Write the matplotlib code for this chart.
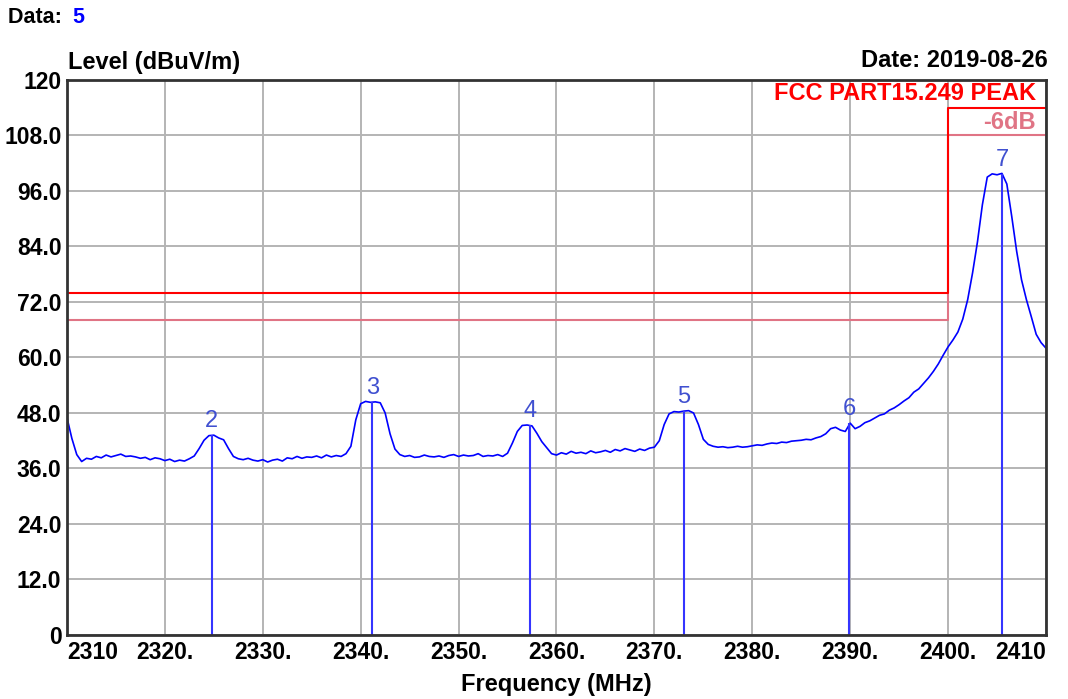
# EMI scan plot - FCC Part 15.249 peak
import numpy as np
import matplotlib.pyplot as plt

plt.rcParams['font.family'] = ['Liberation Sans', 'DejaVu Sans']

# --- trace data: level (dBuV/m), one reading every 0.5 MHz from 2310 to 2410 ---
f_start = 2310.0
f_step = 0.5
level = [
    47.0, 42.5, 39.0, 37.5, 38.2, 38.0, 38.6, 38.3, 38.9, 38.5,
    38.8, 39.1, 38.6, 38.7, 38.5, 38.2, 38.4, 37.9, 38.3, 38.1,
    37.7, 38.0, 37.5, 37.8, 37.6, 38.1, 38.7, 40.3, 42.1, 43.1,
    43.2, 42.6, 42.2, 40.3, 38.6, 38.1, 37.9, 38.2, 37.8, 37.6,
    37.9, 37.4, 37.8, 38.0, 37.6, 38.3, 38.1, 38.6, 38.2, 38.5,
    38.4, 38.7, 38.3, 38.9, 38.5, 38.8, 38.6, 39.2, 40.8, 46.5,
    50.0, 50.5, 50.3, 50.4, 50.2, 48.0, 43.5, 40.2, 39.0, 38.6,
    38.8, 38.4, 38.5, 38.9, 38.6, 38.5, 38.7, 38.4, 38.8, 39.0,
    38.6, 38.9, 38.7, 38.8, 39.2, 38.6, 38.8, 38.7, 39.0, 38.6,
    39.3, 41.5, 44.0, 45.3, 45.4, 45.2, 43.6, 41.8, 40.5, 39.2,
    38.9, 39.4, 39.1, 39.7, 39.3, 39.5, 39.2, 39.8, 39.4, 39.6,
    39.9, 39.5, 40.1, 39.8, 40.3, 40.0, 39.7, 40.2, 39.9, 40.4,
    40.6, 42.0, 45.5, 47.8, 48.3, 48.2, 48.4, 48.5, 48.0, 45.5,
    42.3, 41.2, 40.8, 40.6, 40.7, 40.5, 40.6, 40.8, 40.6, 40.7,
    40.9, 41.1, 41.0, 41.3, 41.5, 41.4, 41.7, 41.6, 41.9, 42.0,
    42.1, 42.3, 42.2, 42.6, 42.9, 43.5, 44.6, 44.9, 44.3, 44.0,
    45.8, 44.6, 45.1, 45.9, 46.3, 46.9, 47.5, 47.8, 48.6, 49.1,
    49.8, 50.6, 51.3, 52.5, 53.2, 54.4, 55.6, 57.0, 58.6, 60.5,
    62.3, 63.8, 65.5, 68.3, 72.5, 78.3, 85.0, 93.0, 99.0, 99.7,
    99.5, 99.8, 97.5, 90.5, 83.0, 76.8, 72.5, 68.8, 65.0, 63.2,
    62.0,
]
freq = f_start + f_step * np.arange(len(level))

# --- markers ---
marker_id = ['2', '3', '4', '5', '6', '7']
marker_freq = [2324.8, 2341.2, 2357.3, 2373.0, 2389.9, 2405.5]
marker_level = [43.2, 50.4, 45.4, 48.4, 45.8, 99.7]

# --- limit lines ---
limit_freq = [2310, 2400, 2400, 2410]
limit_peak = [74, 74, 114, 114]
limit_margin = [68, 68, 108, 108]

# --- axis ticks ---
x_ticks = [2310, 2320, 2330, 2340, 2350, 2360, 2370, 2380, 2390, 2400, 2410]
x_labels = ['2310', '2320.', '2330.', '2340.', '2350.', '2360.', '2370.',
            '2380.', '2390.', '2400.', '2410']
y_ticks = [0, 12, 24, 36, 48, 60, 72, 84, 96, 108, 120]
y_labels = ['0', '12.0', '24.0', '36.0', '48.0', '60.0', '72.0',
            '84.0', '96.0', '108.0', '120']

fig = plt.figure(figsize=(10.68, 6.99), dpi=100)
ax = fig.add_axes([0.0627, 0.0916, 0.9167, 0.794])

ax.set_xlim(2310, 2410)
ax.set_ylim(0, 120)
ax.set_xticks(x_ticks)
ax.set_yticks(y_ticks)
ax.set_xticklabels(x_labels, fontsize=16.5, fontweight='bold')
ax.set_yticklabels(y_labels, fontsize=16.5, fontweight='bold')
ax.tick_params(length=0, pad=4)
xl = ax.get_xticklabels()
xl[0].set_ha('left')
xl[-1].set_ha('right')
ax.grid(True, color='#b4b4b4', linewidth=1.4)
ax.set_axisbelow(True)
for s in ax.spines.values():
    s.set_color('#333333')
    s.set_linewidth(2)

# limits
ax.plot(limit_freq, limit_margin, color='#e07485', linewidth=1.5)
ax.plot(limit_freq, limit_peak, color='#ff0000', linewidth=1.5)

# trace
ax.plot(freq, level, color='#0000ff', linewidth=1.2)

# markers
ax.vlines(marker_freq, 0, marker_level, color='#3535ff', linewidth=1.5)
for m, fx, lv in zip(marker_id, marker_freq, marker_level):
    ax.text(fx, lv + 0.6, m, ha='center', va='bottom', fontsize=17,
            color='#4050d0')

ax.text(2409, 119.6, 'FCC PART15.249 PEAK', ha='right', va='top', fontsize=17,
        fontweight='bold', color='#ff0000')
ax.text(2409, 110.8, '-6dB', ha='right', va='center', fontsize=17,
        fontweight='bold', color='#e07485')

fig.text(0.0075, 0.975, 'Data: ', ha='left', va='center', fontsize=15.5,
         fontweight='bold', color='black')
fig.text(0.068, 0.975, '5', ha='left', va='center', fontsize=15.5,
         fontweight='bold', color='#0000ff')
fig.text(0.0637, 0.911, 'Level (dBuV/m)', ha='left', va='center', fontsize=17,
         fontweight='bold', color='black')
fig.text(0.981, 0.914, 'Date: 2019-08-26', ha='right', va='center',
         fontsize=17, fontweight='bold', color='black')
ax.set_xlabel('Frequency (MHz)', fontsize=17, fontweight='bold', labelpad=7)

fig.savefig('out.png', dpi=100)
